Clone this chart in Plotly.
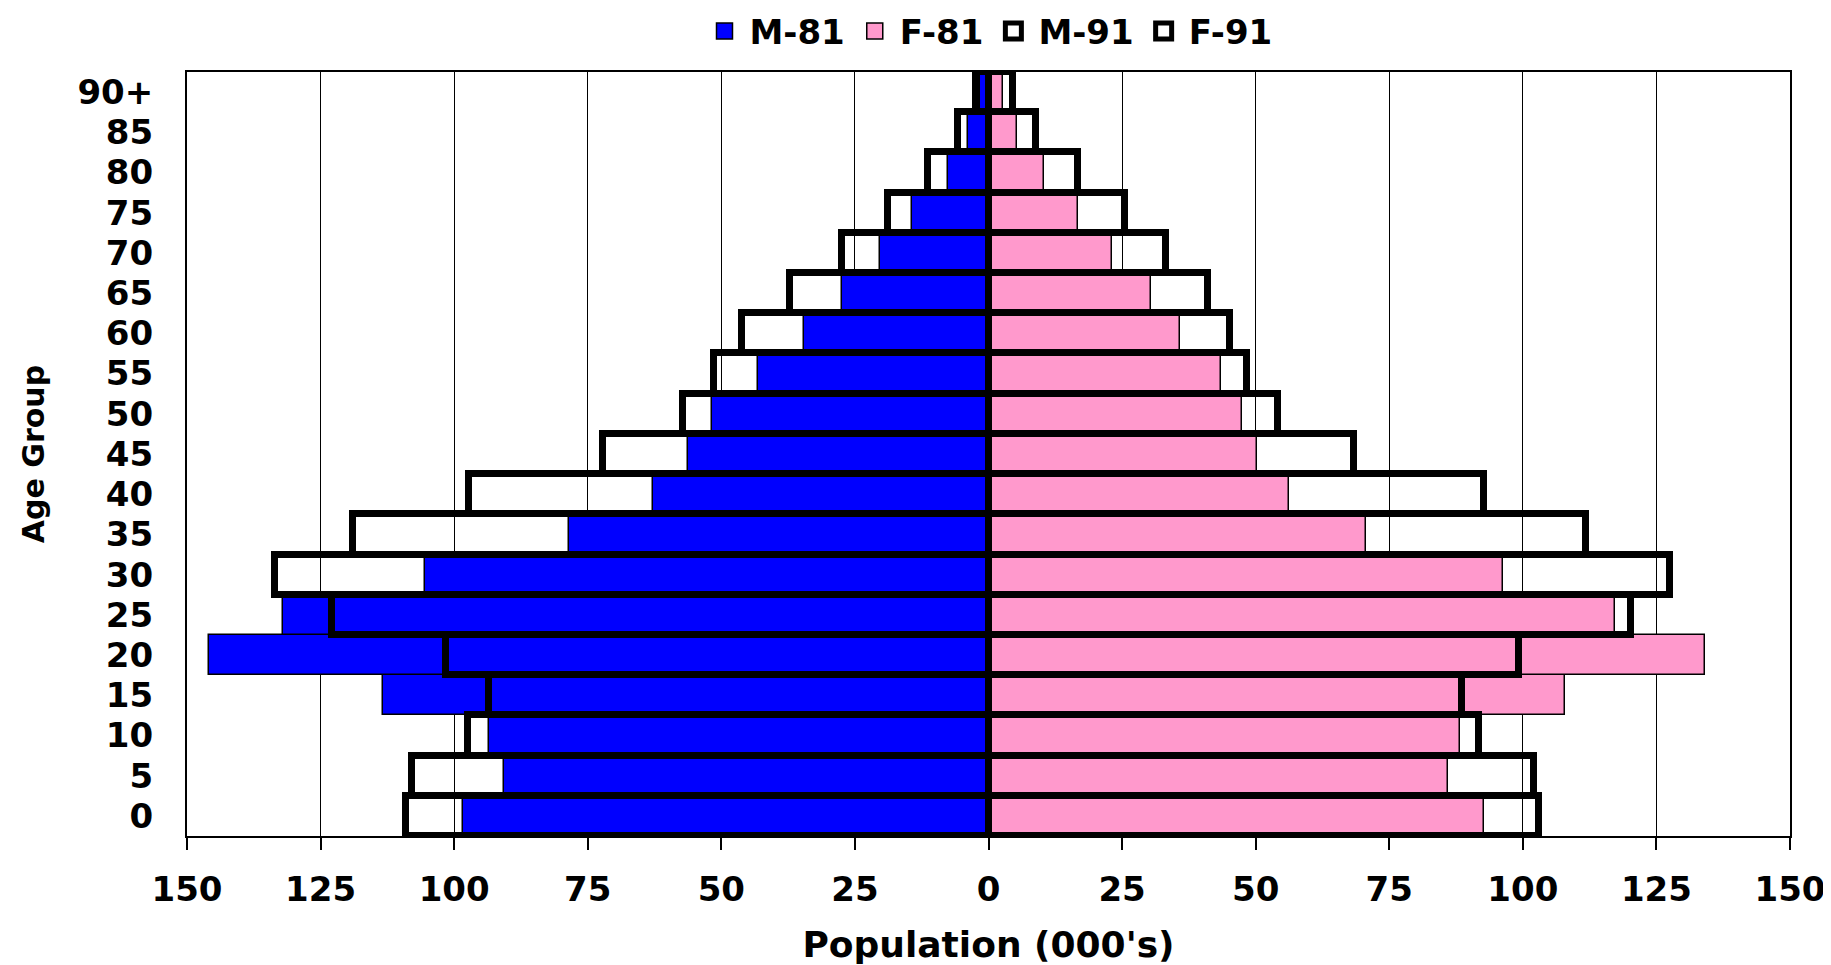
import plotly.graph_objects as go

# age groups, bottom to top
ages = ["0", "5", "10", "15", "20", "25", "30", "35", "40", "45",
        "50", "55", "60", "65", "70", "75", "80", "85", "90+"]

# population in thousands
male_81 = [98.3, 90.7, 93.4, 113.3, 145.9, 132.1, 105.5, 78.6, 62.7, 56.2,
           51.8, 43.1, 34.6, 27.5, 20.3, 14.3, 7.5, 3.8, 1.6]
female_81 = [92.7, 86.0, 88.3, 107.8, 134.1, 117.2, 96.2, 70.6, 56.3, 50.3,
             47.4, 43.6, 35.8, 30.5, 23.1, 16.7, 10.3, 5.4, 2.7]
male_91 = [109.1, 107.8, 97.5, 93.5, 101.6, 122.8, 133.6, 119.0, 97.2, 72.1,
           57.1, 51.4, 46.1, 37.1, 27.4, 18.8, 11.3, 5.7, 2.3]
female_91 = [103.1, 102.1, 91.8, 88.7, 99.3, 120.3, 127.6, 111.9, 92.7, 68.4,
             54.1, 48.3, 45.2, 41.1, 33.2, 25.6, 16.7, 8.8, 4.6]

x_ticks = [-150, -125, -100, -75, -50, -25, 0, 25, 50, 75, 100, 125, 150]
x_tick_text = [str(abs(v)) for v in x_ticks]

FONT = "DejaVu Sans"
BLUE = "#0000FF"
PINK = "#FF99CC"

fig = go.Figure()

# 1981 bars, filled
fig.add_trace(go.Bar(
    y=ages, x=[-v for v in male_81], orientation="h", name="M-81",
    marker=dict(color=BLUE, line=dict(color="black", width=1.5)),
    customdata=male_81, hovertemplate="M-81 %{y}: %{customdata}<extra></extra>",
    showlegend=False,
))
fig.add_trace(go.Bar(
    y=ages, x=female_81, orientation="h", name="F-81",
    marker=dict(color=PINK, line=dict(color="black", width=1.5)),
    hovertemplate="F-81 %{y}: %{x}<extra></extra>",
    showlegend=False,
))
# 1991 bars, outline only, on top
fig.add_trace(go.Bar(
    y=ages, x=[-v for v in male_91], orientation="h", name="M-91",
    marker=dict(color="rgba(0,0,0,0)", line=dict(color="black", width=7)),
    customdata=male_91, hovertemplate="M-91 %{y}: %{customdata}<extra></extra>",
    showlegend=False,
))
fig.add_trace(go.Bar(
    y=ages, x=female_91, orientation="h", name="F-91",
    marker=dict(color="rgba(0,0,0,0)", line=dict(color="black", width=7)),
    hovertemplate="F-91 %{y}: %{x}<extra></extra>",
    showlegend=False,
))

# legend entries with bigger square symbols
legend_items = [("M-81", BLUE, 1.5), ("F-81", PINK, 1.5),
                ("M-91", "white", 5), ("F-91", "white", 5)]
for name, col, lw in legend_items:
    fig.add_trace(go.Scatter(
        x=[None], y=[None], mode="markers", name=name,
        marker=dict(symbol="square", size=16, color=col,
                    line=dict(color="black", width=lw)),
        showlegend=True, hoverinfo="skip",
    ))

# page body has an 8px margin, so the figure is 8px smaller and margins shifted
fig.update_layout(
    width=1823, height=957,
    barmode="overlay", bargap=0,
    plot_bgcolor="white", paper_bgcolor="white",
    margin=dict(l=179, r=41, t=64, b=129, autoexpand=False),
    font=dict(family=FONT, size=34, color="black", weight="bold"),
    legend=dict(
        orientation="h", x=0.5, xanchor="center", y=1.053, yanchor="middle",
        font=dict(family=FONT, size=34, color="black", weight="bold"),
        itemwidth=40, itemsizing="trace", traceorder="normal",
    ),
    xaxis=dict(
        range=[-150, 150], tickvals=x_ticks, ticktext=x_tick_text,
        showgrid=True, gridcolor="black", gridwidth=1, zeroline=False,
        showline=True, linecolor="black", linewidth=2, mirror=True,
        ticks="outside", ticklen=12, tickwidth=2, tickcolor="black",
        ticklabelstandoff=10,
        title=dict(text="Population (000's)", standoff=24,
                   font=dict(family=FONT, size=36, weight="bold")),
        fixedrange=True,
    ),
    yaxis=dict(
        categoryorder="array", categoryarray=ages, range=[-0.5, 18.5],
        tickmode="array", tickvals=ages, ticktext=ages,
        showgrid=False, zeroline=False,
        showline=True, linecolor="black", linewidth=2, mirror=True,
        ticks="", ticklabelstandoff=25,
        title=dict(text="Age Group", standoff=24,
                   font=dict(family=FONT, size=30, weight="bold")),
        fixedrange=True,
    ),
)

fig.write_html("out.html")
